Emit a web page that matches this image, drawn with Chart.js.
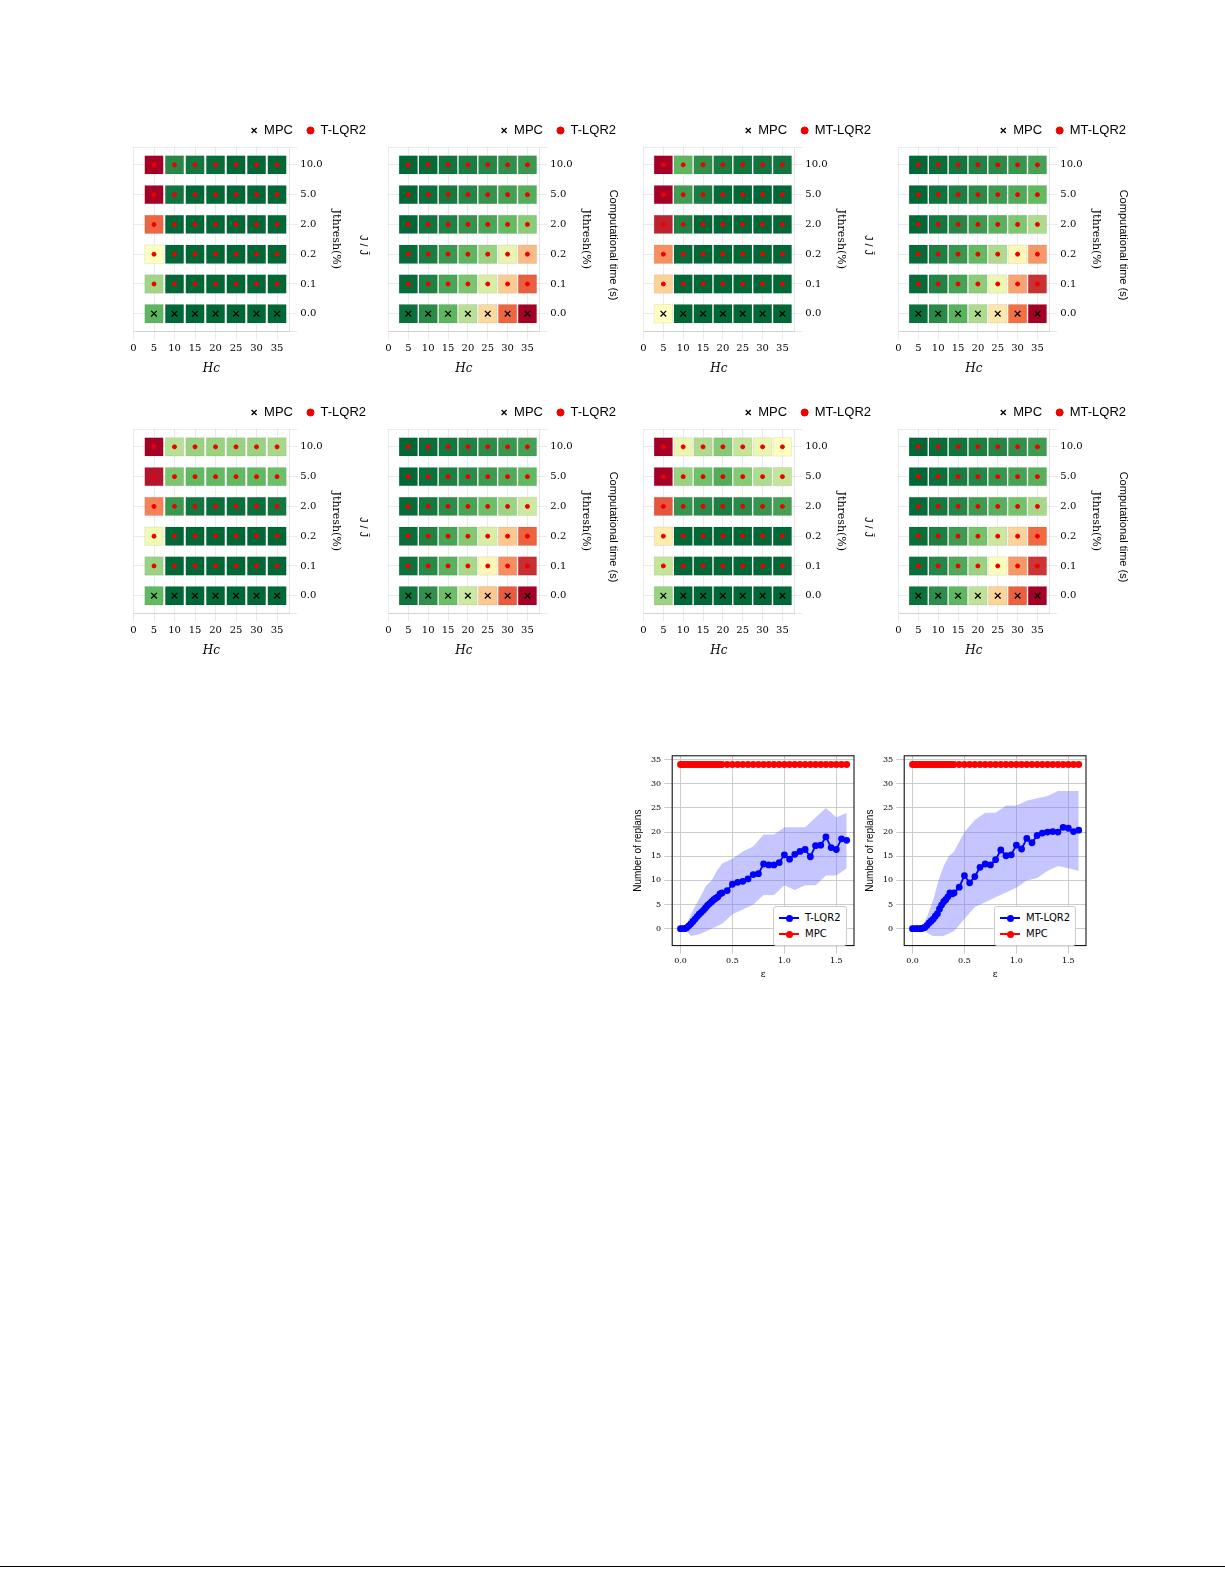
<!DOCTYPE html>
<html>
<head>
<meta charset="utf-8">
<script src="https://cdn.jsdelivr.net/npm/chart.js@4"></script>
<style>
  body { margin: 0; background: #fff; width: 1225px; height: 1585px; position: relative; font-family: "DejaVu Sans", sans-serif; }
  .box { position: absolute; }
  #rule { position: absolute; left: 0; top: 1566px; width: 1225px; height: 1px; background: #000; }
  .lg { position: absolute; background: #fff; border: 1px solid #ccc; border-radius: 3px; padding: 3px 5px; font-size: 10px; line-height: 16px; }
  .lg span.sw { display: inline-block; width: 20px; height: 2px; vertical-align: middle; margin-right: 6px; position: relative; }
  .lg span.sw::after { content: ""; position: absolute; left: 7px; top: -2.5px; width: 7px; height: 7px; border-radius: 50%; background: inherit; }
</style>
</head>
<body>
<div class="box" style="left:120px;top:110px;width:260px;height:270px"><canvas id="p0"></canvas></div>
<div class="box" style="left:375px;top:110px;width:255px;height:270px"><canvas id="p1"></canvas></div>
<div class="box" style="left:630px;top:110px;width:255px;height:270px"><canvas id="p2"></canvas></div>
<div class="box" style="left:885px;top:110px;width:255px;height:270px"><canvas id="p3"></canvas></div>
<div class="box" style="left:120px;top:392px;width:260px;height:270px"><canvas id="p4"></canvas></div>
<div class="box" style="left:375px;top:392px;width:255px;height:270px"><canvas id="p5"></canvas></div>
<div class="box" style="left:630px;top:392px;width:255px;height:270px"><canvas id="p6"></canvas></div>
<div class="box" style="left:885px;top:392px;width:255px;height:270px"><canvas id="p7"></canvas></div>
<div class="box" style="left:628px;top:748px;width:232px;height:232px"><canvas id="r1"></canvas></div>
<div class="box" style="left:860px;top:748px;width:232px;height:232px"><canvas id="r2"></canvas></div>
<div class="lg" style="left:773px;top:906px"><div><span class="sw" style="background:#00f"></span>T-LQR2</div><div><span class="sw" style="background:#f00"></span>MPC</div></div>
<div class="lg" style="left:994px;top:906px"><div><span class="sw" style="background:#00f"></span>MT-LQR2</div><div><span class="sw" style="background:#f00"></span>MPC</div></div>
<div id="rule"></div>
<script>
// ---- 3D panels, drawn flat: H_c vs J_thresh, colour = value ----
const hcValues = [5, 10, 15, 20, 25, 30, 35];
const threshLabels = ["0.0", "0.1", "0.2", "2.0", "5.0", "10.0"];

// rows = J_thresh levels (0.0 ... 10.0), cols = H_c
const costT1 = [
  [1.40, 1.02, 1.00, 1.00, 1.00, 1.00, 1.00],
  [1.55, 1.03, 1.01, 1.00, 1.00, 1.00, 1.00],
  [1.75, 1.05, 1.02, 1.01, 1.00, 1.00, 1.00],
  [2.10, 1.10, 1.05, 1.03, 1.02, 1.02, 1.02],
  [2.60, 1.15, 1.10, 1.08, 1.06, 1.06, 1.06],
  [3.05, 1.22, 1.16, 1.12, 1.10, 1.10, 1.10]
];
const timeT1 = [
  [0.6, 1.2, 2.2, 3.4, 4.8, 6.4, 8.2],
  [0.5, 1.0, 1.8, 2.6, 3.8, 5.0, 6.5],
  [0.5, 0.9, 1.5, 2.2, 3.0, 4.0, 5.2],
  [0.4, 0.7, 1.0, 1.4, 1.8, 2.3, 2.8],
  [0.4, 0.6, 0.8, 1.1, 1.4, 1.7, 2.0],
  [0.4, 0.5, 0.7, 0.9, 1.1, 1.3, 1.5]
];
const costM1 = [
  [1.75, 1.05, 1.00, 1.00, 1.00, 1.00, 1.00],
  [1.85, 1.08, 1.02, 1.01, 1.00, 1.00, 1.00],
  [2.00, 1.12, 1.05, 1.03, 1.02, 1.02, 1.02],
  [2.30, 1.20, 1.10, 1.06, 1.05, 1.05, 1.05],
  [2.70, 1.30, 1.18, 1.12, 1.10, 1.10, 1.10],
  [3.00, 1.40, 1.25, 1.18, 1.15, 1.15, 1.15]
];
const timeM1 = [
  [5, 12, 22, 35, 50, 68, 90],
  [4, 10, 18, 30, 44, 60, 80],
  [4, 9, 15, 24, 35, 48, 62],
  [3, 7, 11, 16, 22, 28, 35],
  [3, 6, 9, 12, 16, 20, 24],
  [3, 5, 7, 10, 12, 15, 18]
];
const costT2 = [
  [1.70, 1.05, 1.00, 1.00, 1.00, 1.00, 1.00],
  [1.90, 1.10, 1.05, 1.03, 1.03, 1.03, 1.03],
  [2.20, 1.20, 1.12, 1.08, 1.08, 1.08, 1.08],
  [2.70, 1.50, 1.30, 1.25, 1.25, 1.25, 1.30],
  [3.20, 1.80, 1.70, 1.70, 1.70, 1.70, 1.75],
  [3.60, 2.00, 1.90, 1.90, 1.90, 1.90, 1.95]
];
const timeT2 = [
  [0.8, 1.6, 3.0, 4.6, 6.4, 8.4, 10.5],
  [0.7, 1.4, 2.6, 4.0, 5.6, 7.4, 9.4],
  [0.6, 1.2, 2.2, 3.4, 4.8, 6.4, 8.2],
  [0.5, 0.9, 1.5, 2.2, 3.0, 3.8, 4.6],
  [0.4, 0.7, 1.1, 1.5, 1.9, 2.4, 2.8],
  [0.4, 0.6, 0.9, 1.2, 1.5, 1.8, 2.1]
];
const costM2 = [
  [1.80, 1.10, 1.02, 1.00, 1.00, 1.00, 1.00],
  [1.90, 1.15, 1.08, 1.05, 1.05, 1.05, 1.05],
  [2.10, 1.25, 1.15, 1.12, 1.12, 1.12, 1.12],
  [2.50, 1.50, 1.45, 1.40, 1.45, 1.50, 1.55],
  [3.00, 1.80, 1.70, 1.60, 1.75, 1.85, 1.90],
  [3.40, 2.00, 1.85, 1.75, 1.90, 2.00, 2.05]
];
const timeM2 = [
  [6, 14, 26, 42, 60, 80, 102],
  [5, 12, 22, 36, 52, 70, 90],
  [5, 10, 18, 30, 44, 60, 78],
  [4, 8, 12, 18, 24, 30, 38],
  [3, 6, 9, 12, 16, 20, 24],
  [3, 5, 7, 10, 12, 15, 18]
];

const panels = [
  { id: "p0", data: costT1, method: "T-LQR2", label: "J / J\u0304", min: 1.1, max: 2.4 },
  { id: "p1", data: timeT1, method: "T-LQR2", label: "Computational time (s)", min: 0.4, max: 8.2 },
  { id: "p2", data: costM1, method: "MT-LQR2", label: "J / J\u0304", min: 1.1, max: 2.4 },
  { id: "p3", data: timeM1, method: "MT-LQR2", label: "Computational time (s)", min: 3, max: 90 },
  { id: "p4", data: costT2, method: "T-LQR2", label: "J / J\u0304", min: 1.2, max: 3.3 },
  { id: "p5", data: timeT2, method: "T-LQR2", label: "Computational time (s)", min: 0.4, max: 10.5 },
  { id: "p6", data: costM2, method: "MT-LQR2", label: "J / J\u0304", min: 1.3, max: 2.8 },
  { id: "p7", data: timeM2, method: "MT-LQR2", label: "Computational time (s)", min: 3, max: 102 }
];

// RdYlGn reversed
const stops = [[0, [0, 104, 55]], [0.25, [102, 189, 99]], [0.5, [255, 255, 191]], [0.75, [244, 109, 67]], [1, [165, 0, 38]]];
function cmap(t) {
  t = Math.max(0, Math.min(1, t));
  for (let i = 1; i < stops.length; i++) {
    if (t <= stops[i][0]) {
      const a = stops[i - 1], b = stops[i];
      const f = (t - a[0]) / (b[0] - a[0]);
      const c = a[1].map((v, k) => Math.round(v + (b[1][k] - v) * f));
      return `rgb(${c[0]},${c[1]},${c[2]})`;
    }
  }
}

const serif = "'DejaVu Serif', serif";

panels.forEach((p) => {
  const cells = [], colors = [], mpc = [], dots = [];
  p.data.forEach((row, j) => {
    row.forEach((v, i) => {
      cells.push({ x: hcValues[i], y: j, v: v });
      colors.push(cmap((v - p.min) / (p.max - p.min)));
      if (j === 0) mpc.push({ x: hcValues[i], y: j });
      else dots.push({ x: hcValues[i], y: j });
    });
  });
  new Chart(document.getElementById(p.id), {
    type: "scatter",
    data: {
      datasets: [
        { label: "MPC", data: mpc, pointStyle: "crossRot", borderColor: "#000", backgroundColor: "#000", pointRadius: 4, borderWidth: 1.3 },
        { label: p.method, data: dots, pointStyle: "circle", borderColor: "#e00", backgroundColor: "#e00", pointRadius: 2 },
        { label: "surface", data: cells, pointStyle: "rect", pointRadius: 13, backgroundColor: colors, borderColor: "rgba(0,0,0,0.15)", borderWidth: 0.5 }
      ]
    },
    options: {
      responsive: true,
      maintainAspectRatio: false,
      animation: false,
      plugins: {
        legend: {
          position: "top",
          align: "end",
          labels: { usePointStyle: true, boxWidth: 7, boxHeight: 5, padding: 14, font: { size: 13 }, color: "#000", filter: (it) => it.text !== "surface" }
        },
        title: { display: true, text: p.label, position: "right", font: { size: 11, weight: "normal" }, color: "#000" },
        tooltip: { enabled: false }
      },
      scales: {
        x: {
          type: "linear", min: 0, max: 38,
          ticks: { stepSize: 5, font: { family: serif, size: 10 }, color: "#000" },
          afterBuildTicks: (ax) => { ax.ticks = [0, 5, 10, 15, 20, 25, 30, 35].map((v) => ({ value: v })); },
          title: { display: true, text: "Hc", font: { family: serif, size: 12, style: "italic" }, color: "#000" },
          grid: { color: "rgba(0,0,0,0.08)" }
        },
        y: {
          type: "linear", min: -0.6, max: 5.6, position: "right",
          ticks: { stepSize: 1, callback: (v) => threshLabels[v] !== undefined ? threshLabels[v] : "", font: { family: serif, size: 10 }, color: "#000" },
          title: { display: true, text: "Jthresh(%)", font: { family: serif, size: 11 }, color: "#000" },
          grid: { color: "rgba(0,0,0,0.08)" }
        }
      }
    }
  });
});

// ---- Number of replans vs epsilon ----
const eps = [0, 0.02, 0.04, 0.06, 0.08, 0.1, 0.12, 0.14, 0.16, 0.18, 0.2, 0.22, 0.24, 0.26, 0.28, 0.3, 0.32, 0.34, 0.36, 0.38, 0.4,
  0.45, 0.5, 0.55, 0.6, 0.65, 0.7, 0.75, 0.8, 0.85, 0.9, 0.95, 1.0, 1.05, 1.1, 1.15, 1.2, 1.25, 1.3, 1.35, 1.4, 1.45, 1.5, 1.55, 1.6];
const mpcReplans = 34;
const tlqrMean = [0, 0, 0, 0.2, 0.6, 1.0, 1.5, 2.0, 2.5, 3.0, 3.4, 3.8, 4.3, 4.8, 5.2, 5.6, 6.0, 6.3, 6.6, 7.2, 7.4,
  7.9, 9.2, 9.6, 9.8, 10.3, 11.2, 11.4, 13.4, 13.2, 13.2, 13.7, 15.3, 14.4, 15.4, 16.0, 16.4, 14.9, 17.2, 17.3, 19.0, 16.8, 16.4, 18.6, 18.3];
const mtlqrMean = [0, 0, 0, 0, 0, 0.1, 0.3, 0.7, 1.2, 1.6, 2.0, 2.6, 3.1, 4.1, 4.9, 5.6, 6.0, 6.6, 7.4, 7.2, 7.4,
  8.6, 11.0, 9.5, 10.8, 12.7, 13.4, 13.2, 14.3, 16.3, 15.1, 15.3, 17.3, 16.5, 18.7, 17.8, 19.3, 19.8, 20.0, 20.1, 20.0, 21.0, 20.8, 20.1, 20.4];
const bandEps = [0, 0.05, 0.1, 0.15, 0.2, 0.25, 0.3, 0.35, 0.4, 0.5, 0.6, 0.7, 0.8, 0.9, 1.0, 1.1, 1.2, 1.3, 1.4, 1.5, 1.6];
const tlqrUpper = [0, 0.5, 3, 5, 7, 9, 10, 12, 13.5, 14.5, 16, 17, 19.5, 19.5, 21, 21, 21, 23, 25, 23, 24];
const tlqrLower = [0, -0.3, -1.5, -1.3, -1, -0.5, 0, 0.5, 1, 3, 4, 5, 7, 7, 9, 8, 9, 9, 11, 11, 12.5];
const mtlqrUpper = [0, 0, 0.5, 3, 6, 10, 13, 15, 16, 20, 22.5, 24, 24, 25.5, 25.5, 26.5, 27, 27.5, 28.5, 28.5, 28.5];
const mtlqrLower = [0, 0, 0, -1, -1.5, -1.5, -1.5, -1, -0.5, 2, 4.5, 5.5, 6.5, 7.5, 8.5, 10, 10.5, 12, 13, 12.5, 12];

function pts(xs, ys) { return xs.map((x, i) => ({ x: x, y: ys[i] })); }

const frame = {
  id: "frame",
  afterDraw(chart) {
    const a = chart.chartArea, c = chart.ctx;
    c.save();
    c.strokeStyle = "#000";
    c.lineWidth = 1;
    c.strokeRect(a.left, a.top, a.right - a.left, a.bottom - a.top);
    c.restore();
  }
};

function replanChart(id, name, mean, upper, lower) {
  new Chart(document.getElementById(id), {
    type: "line",
    data: {
      datasets: [
        { label: name, data: pts(eps, mean), borderColor: "#0000ff", backgroundColor: "#0000ff", pointRadius: 2.5, borderWidth: 1.8, order: 1 },
        { label: "MPC", data: pts(eps, eps.map(() => mpcReplans)), borderColor: "#ff0000", backgroundColor: "#ff0000", pointRadius: 2.5, borderWidth: 1.8, order: 1 },
        { label: "upper", data: pts(bandEps, upper), borderWidth: 0, pointRadius: 0, fill: "+1", backgroundColor: "rgba(110,110,255,0.4)", order: 2 },
        { label: "lower", data: pts(bandEps, lower), borderWidth: 0, pointRadius: 0, fill: false, order: 2 }
      ]
    },
    options: {
      responsive: true,
      maintainAspectRatio: false,
      animation: false,
      plugins: { legend: { display: false }, tooltip: { enabled: false } },
      layout: { padding: { top: 6, right: 6 } },
      scales: {
        x: {
          type: "linear", min: -0.08, max: 1.67,
          ticks: { callback: (v) => v.toFixed(1), font: { family: serif, size: 8 }, color: "#000" },
          afterBuildTicks: (ax) => { ax.ticks = [0, 0.5, 1, 1.5].map((v) => ({ value: v })); },
          title: { display: true, text: "\u03b5", font: { family: serif, size: 9 }, color: "#000", padding: 0 },
          grid: { color: "#ccc" }
        },
        y: {
          min: -3.5, max: 35.8,
          afterBuildTicks: (ax) => { ax.ticks = [0, 5, 10, 15, 20, 25, 30, 35].map((v) => ({ value: v })); },
          ticks: { font: { family: serif, size: 8 }, color: "#000" },
          title: { display: true, text: "Number of replans", font: { size: 10 }, color: "#000" },
          grid: { color: "#ccc" }
        }
      }
    },
    plugins: [frame]
  });
}

replanChart("r1", "T-LQR2", tlqrMean, tlqrUpper, tlqrLower);
replanChart("r2", "MT-LQR2", mtlqrMean, mtlqrUpper, mtlqrLower);
</script>
</body>
</html>
